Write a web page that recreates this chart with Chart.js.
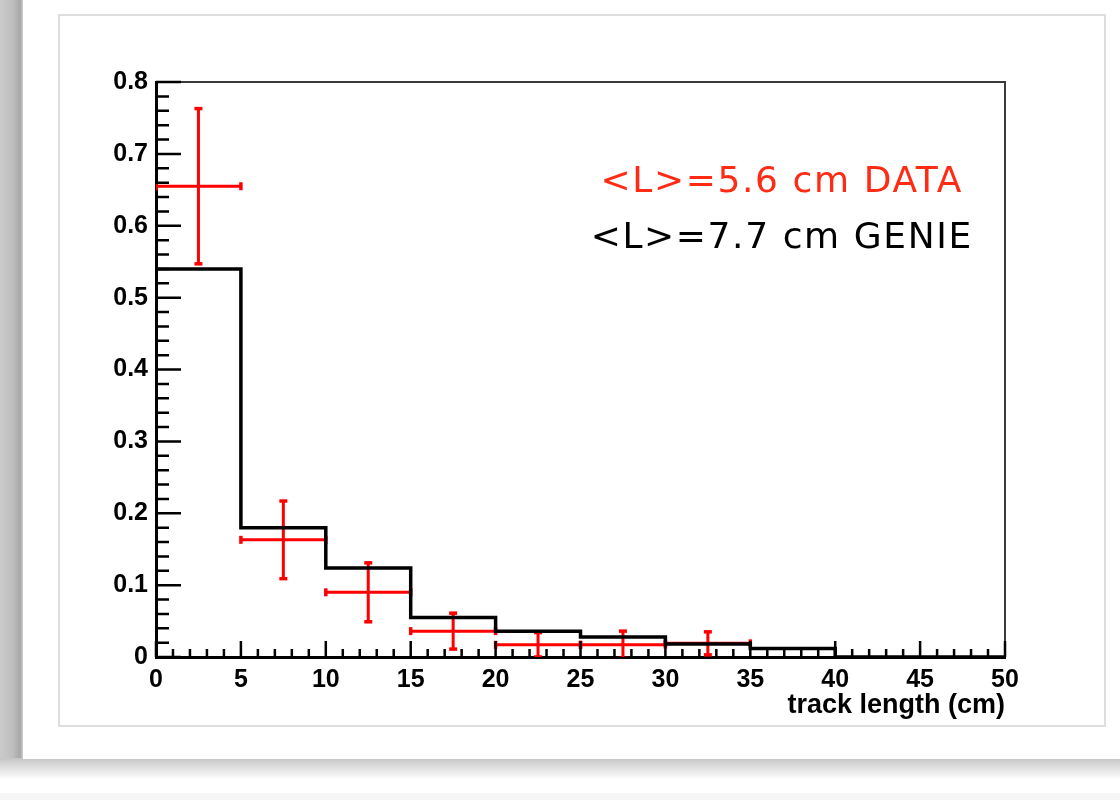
<!DOCTYPE html>
<html>
<head>
<meta charset="utf-8">
<title>track length</title>
<script src="https://cdn.jsdelivr.net/npm/chart.js@4.4.1/dist/chart.umd.min.js"></script>
<style>
  html, body { margin: 0; padding: 0; background: #fff; }
  #page { position: relative; width: 1120px; height: 800px; overflow: hidden; }
  #page div, #page canvas { position: absolute; }
  .edge-left   { left: 0; top: 0; width: 23px; height: 772px;
                 background: linear-gradient(to right, #cbcbcb 0%, #bebebe 55%, #a6a6a6 88%, #d0d0d0 100%); }
  .edge-bottom { left: 0; top: 758px; width: 1120px; height: 20px;
                 background: linear-gradient(to bottom, #c4c4c4 0%, #dedede 45%, #fafafa 100%); }
  .foot        { left: 0; top: 793px; width: 1120px; height: 7px; background: #f5f5f5; }
  .sheet       { left: 23px; top: 0; width: 1097px; height: 759px; background: #fff; }
  .pad         { left: 58px; top: 14px; width: 1048px; height: 713px; box-sizing: border-box;
                 border: 2px solid #dedede; background: #fff; }
  #trackChart  { left: 0; top: 0; }
</style>
</head>
<body>
<div id="page">
  <div class="edge-left"></div>
  <div class="edge-bottom"></div>
  <div class="foot"></div>
  <div class="sheet"></div>
  <div class="pad"></div>
  <canvas id="trackChart" width="1120" height="800"></canvas>
</div>

<script>
// ===== DADOS =====
const binEdges  = [0, 5, 10, 15, 20, 25, 30, 35, 40, 45, 50];
const genieFrac = [0.54, 0.18, 0.124, 0.055, 0.036, 0.028, 0.018, 0.012, 0, 0];
const dataFrac  = [0.655, 0.163, 0.09, 0.036, 0.017, 0.017, 0.019];
const dataErr   = [0.108, 0.054, 0.041, 0.025, 0.017, 0.019, 0.016];

const xTicks = { min: 0, max: 50, step: 5, minor: 1 };
const yTicks = { min: 0, max: 0.8, step: 0.1, minor: 0.02 };

const legendLines = [
  { text: '<L>=5.6 cm DATA',  color: '#ff2b14' },
  { text: '<L>=7.7 cm GENIE', color: '#000000' }
];
const xTitle = 'track length (cm)';

const RED = '#ff0000';
const FAMILY = "'Liberation Sans', Arial, sans-serif";
const tickFont  = { family: FAMILY, weight: 'bold', size: 25 };
const titleFont = { family: FAMILY, weight: 'bold', size: 27 };


// ===== HISTOGRAMA GENIE (degraus) =====
const geniePts = binEdges.map((x, i) => ({ x, y: genieFrac[Math.min(i, genieFrac.length - 1)] }));

// ===== PONTOS DATA: barras de erro como segmentos =====
const dataBars = [];
const dataCaps = [];
dataFrac.forEach((v, i) => {
  const lo = binEdges[i], hi = binEdges[i + 1], c = (lo + hi) / 2, e = dataErr[i];
  dataBars.push({ x: lo, y: v }, { x: hi, y: v }, { x: hi, y: null });
  dataBars.push({ x: c, y: v - e }, { x: c, y: v + e }, { x: c, y: null });
  dataCaps.push({ x: lo, y: v, r: 90 }, { x: hi, y: v, r: 90 });
  dataCaps.push({ x: c, y: v - e, r: 0 }, { x: c, y: v + e, r: 0 });
});


// ===== TICKS INTERNOS + MOLDURA (estilo ROOT) =====
const rootFrame = {
  id: 'rootFrame',
  afterDatasetsDraw(chart) {
    const { ctx, chartArea: a, scales: { x, y } } = chart;
    ctx.save();
    ctx.lineCap = 'butt';

    // moldura superior / direita
    ctx.strokeStyle = '#3a3a3a';
    ctx.lineWidth = 2;
    ctx.beginPath();
    ctx.moveTo(a.left, a.top);
    ctx.lineTo(a.right, a.top);
    ctx.lineTo(a.right, a.bottom);
    ctx.stroke();

    ctx.strokeStyle = '#000';
    ctx.lineWidth = 2.5;
    ctx.beginPath();
    const nY = Math.round((yTicks.max - yTicks.min) / yTicks.minor);
    for (let k = 0; k <= nY; k++) {
      const v = yTicks.min + k * yTicks.minor;
      const major = k % Math.round(yTicks.step / yTicks.minor) === 0;
      const py = y.getPixelForValue(v);
      ctx.moveTo(a.left, py);
      ctx.lineTo(a.left + (major ? 25 : 13), py);
    }
    const nX = Math.round((xTicks.max - xTicks.min) / xTicks.minor);
    for (let k = 0; k <= nX; k++) {
      const v = xTicks.min + k * xTicks.minor;
      const major = k % Math.round(xTicks.step / xTicks.minor) === 0;
      const px = x.getPixelForValue(v);
      ctx.moveTo(px, a.bottom);
      ctx.lineTo(px, a.bottom - (major ? 16 : 8));
    }
    ctx.stroke();
    ctx.restore();
  }
};

// ===== LEGENDA EM TEXTO =====
const meanLabels = {
  id: 'meanLabels',
  afterDraw(chart) {
    const { ctx, chartArea: a } = chart;
    const cx = a.left + (a.right - a.left) * 0.737;
    ctx.save();
    ctx.font = "36px 'DejaVu Sans', sans-serif";
    ctx.letterSpacing = '1.6px';
    ctx.textAlign = 'center';
    ctx.textBaseline = 'middle';
    legendLines.forEach((l, i) => {
      ctx.fillStyle = l.color;
      ctx.fillText(l.text, cx, a.top + 101 + i * 56);
    });
    ctx.restore();
  }
};


// ===== CHART =====
new Chart(document.getElementById('trackChart'), {
  type: 'line',
  data: {
    datasets: [
      {
        label: 'GENIE',
        data: geniePts,
        stepped: 'before',
        borderColor: '#000',
        borderWidth: 3.5,
        pointRadius: 0,
        fill: false
      },
      {
        label: 'DATA',
        data: dataBars,
        borderColor: RED,
        borderWidth: 3,
        borderCapStyle: 'butt',
        pointRadius: 0,
        spanGaps: false,
        fill: false
      },
      {
        label: 'DATA caps',
        data: dataCaps,
        showLine: false,
        pointStyle: 'line',
        pointRadius: 4,
        pointBorderWidth: 3.5,
        pointBorderColor: RED,
        pointRotation: ctx => ctx.raw ? ctx.raw.r : 0
      }
    ]
  },
  options: {
    responsive: false,
    animation: false,
    events: [],
    layout: { padding: { left: 0, top: 82, right: 115, bottom: 0 } },
    plugins: { legend: { display: false }, tooltip: { enabled: false } },
    scales: {
      x: {
        type: 'linear',
        min: xTicks.min,
        max: xTicks.max,
        grid: { display: false, drawTicks: false },
        border: { display: true, color: '#000', width: 3 },
        ticks: { stepSize: xTicks.step, color: '#000', font: tickFont, padding: 8, maxRotation: 0 },
        title: {
          display: true,
          text: xTitle,
          align: 'end',
          color: '#000',
          font: titleFont,
          padding: { top: 0, bottom: 78 }
        },
        afterFit: s => { s.height = 143; }
      },
      y: {
        min: yTicks.min,
        max: yTicks.max,
        grid: { display: false, drawTicks: false },
        border: { display: true, color: '#000', width: 3 },
        ticks: {
          stepSize: yTicks.step,
          color: '#000',
          font: tickFont,
          padding: 8,
          callback: v => v === 0 ? '0' : v.toFixed(1)
        },
        afterFit: s => { s.width = 156; }
      }
    }
  },
  plugins: [rootFrame, meanLabels]
});
</script>
</body>
</html>
